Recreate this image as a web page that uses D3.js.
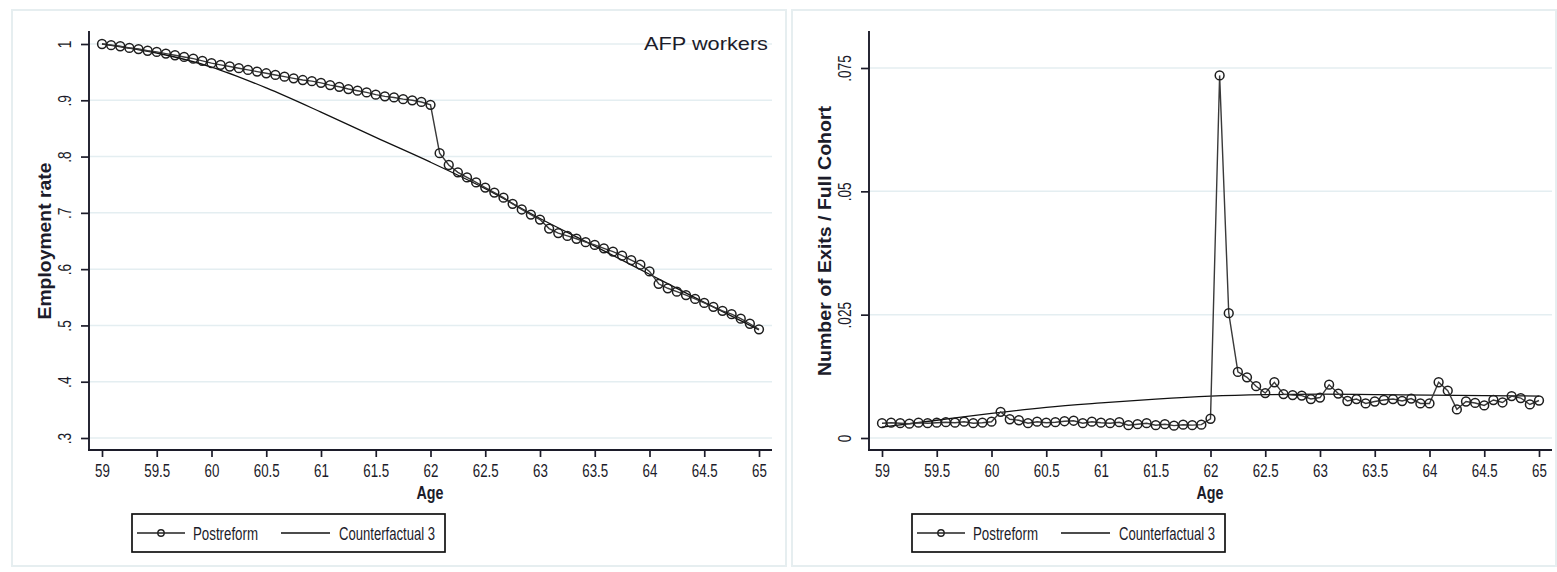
<!DOCTYPE html>
<html>
<head>
<meta charset="utf-8">
<script src="https://cdn.jsdelivr.net/npm/d3@7"></script>
<style>
  html, body { margin: 0; padding: 0; background: #fff; }
  svg { display: block; }
  .tick text { font-family: "Liberation Sans", Arial, sans-serif; fill: #1c1c2a; }
</style>
</head>
<body>
<svg id="chart" width="1557" height="572"></svg>
<script>
// Monthly ages 59.000 ... 65.000 (73 observations)
const ages = d3.range(0, 73).map(i => 59 + i / 12);

// Left panel: employment rate, post-reform cohort (monthly)
const employmentPost = [
  1.000, 0.998, 0.996, 0.993, 0.991, 0.988, 0.986, 0.983, 0.980, 0.977, 0.974, 0.970,
  0.966, 0.963, 0.960, 0.957, 0.954, 0.951, 0.948, 0.945, 0.942, 0.939, 0.936, 0.934,
  0.931, 0.927, 0.924, 0.920, 0.917, 0.914, 0.910, 0.907, 0.905, 0.902, 0.900, 0.897,
  0.892, 0.806, 0.785, 0.772, 0.763, 0.754, 0.745, 0.736, 0.727, 0.716, 0.706, 0.697,
  0.688, 0.672, 0.664, 0.659, 0.654, 0.648, 0.643, 0.637, 0.631, 0.624, 0.616, 0.608,
  0.596, 0.574, 0.566, 0.560, 0.554, 0.547, 0.540, 0.533, 0.526, 0.520, 0.512, 0.503,
  0.493
];

// Left panel: counterfactual 3 employment path (half-year knots)
const cfAgesEmp = [59, 59.5, 60, 60.5, 61, 61.5, 62, 62.5, 63, 63.5, 64, 64.5, 65];
const employmentCf = [1.000, 0.984, 0.959, 0.922, 0.879, 0.834, 0.790, 0.743, 0.690, 0.641, 0.591, 0.541, 0.492];

// Right panel: exits as a share of the full cohort, post-reform (monthly)
const exitsPost = [
  0.0030, 0.0031, 0.0030, 0.0029, 0.0031, 0.0030, 0.0031, 0.0032, 0.0031, 0.0033, 0.0030, 0.0031,
  0.0033, 0.0053, 0.0038, 0.0036, 0.0030, 0.0033, 0.0031, 0.0032, 0.0034, 0.0035, 0.0030, 0.0033,
  0.0031, 0.0030, 0.0032, 0.0026, 0.0028, 0.0030, 0.0026, 0.0028, 0.0025, 0.0027, 0.0026, 0.0027,
  0.0039, 0.0735, 0.0253, 0.0134, 0.0123, 0.0105, 0.0091, 0.0113, 0.0089, 0.0087, 0.0086, 0.0079,
  0.0082, 0.0108, 0.0090, 0.0075, 0.0079, 0.0070, 0.0074, 0.0077, 0.0079, 0.0075, 0.0080, 0.0070,
  0.0070, 0.0113, 0.0096, 0.0058, 0.0074, 0.0071, 0.0066, 0.0077, 0.0072, 0.0085, 0.0081, 0.0068,
  0.0076
];

// Right panel: counterfactual 3 exit path (half-year knots)
const cfAgesExit = [59, 59.5, 60, 60.5, 61, 61.5, 62, 62.5, 63, 63.5, 64, 64.5, 65];
const exitsCf = [0.0022, 0.0036, 0.0050, 0.0062, 0.0071, 0.0079, 0.0085, 0.0088, 0.0089, 0.0088, 0.0087, 0.0086, 0.0085];

// Axis ticks and labels
const xTicks = d3.range(59, 65.01, 0.5);
const empTicks = [0.3, 0.4, 0.5, 0.6, 0.7, 0.8, 0.9, 1];
const empTickLabels = [".3", ".4", ".5", ".6", ".7", ".8", ".9", "1"];
const exitTicks = [0, 0.025, 0.05, 0.075];
const exitTickLabels = ["0", ".025", ".05", ".075"];
const seriesNames = ["Postreform", "Counterfactual 3"];

const svg = d3.select("#chart");
const sans = '"Liberation Sans", Arial, sans-serif';
const ink = "#1c1c2a";
const gridColor = "#e4eef1";

// squeeze text horizontally (condensed look)
function condense(sel, factor) {
  sel.each(function () {
    const w = this.getComputedTextLength();
    d3.select(this).attr("textLength", w * factor).attr("lengthAdjust", "spacingAndGlyphs");
  });
}
function fitTo(sel, len) {
  sel.attr("textLength", len).attr("lengthAdjust", "spacingAndGlyphs");
}

function panel(cfg) {
  const g = svg.append("g").attr("transform", `translate(${cfg.dx},0)`);

  // outer frame
  g.append("rect")
    .attr("x", cfg.frame[0]).attr("y", 10)
    .attr("width", cfg.frame[1] - cfg.frame[0]).attr("height", 556)
    .attr("fill", "none").attr("stroke", "#e6eef0").attr("stroke-width", 2);

  const x = d3.scaleLinear().domain([59, 65]).range([102, 759]);
  const y = d3.scaleLinear().domain(cfg.yDomain).range(cfg.yRange);

  // horizontal grid
  g.append("g").selectAll("line").data(cfg.yTicks).join("line")
    .attr("x1", 89).attr("x2", 772)
    .attr("y1", d => y(d)).attr("y2", d => y(d))
    .attr("stroke", gridColor).attr("stroke-width", 1.5);

  // y axis
  const yAxis = g.append("g").attr("transform", "translate(89,0)")
    .call(d3.axisLeft(y).tickValues(cfg.yTicks)
      .tickFormat((d, i) => cfg.yLabels[i]).tickSize(8).tickPadding(4));
  yAxis.select(".domain").remove();
  yAxis.selectAll(".tick line").attr("stroke", ink).attr("stroke-width", 1.7);
  yAxis.selectAll(".tick text")
    .attr("x", null).attr("dy", null)
    .attr("transform", "translate(-18,0) rotate(-90)")
    .attr("text-anchor", "middle")
    .style("font-size", "18.5px");
  condense(yAxis.selectAll(".tick text"), 0.74);

  // x axis
  const xAxis = g.append("g").attr("transform", "translate(0,450)")
    .call(d3.axisBottom(x).tickValues(xTicks)
      .tickFormat(d3.format("")).tickSize(7).tickPadding(3));
  xAxis.select(".domain").remove();
  xAxis.selectAll(".tick line").attr("stroke", ink).attr("stroke-width", 1.7);
  xAxis.selectAll(".tick text").attr("dy", null).attr("y", 26.5).style("font-size", "18.5px");
  condense(xAxis.selectAll(".tick text"), 0.72);

  // axis lines
  g.append("line").attr("x1", 89).attr("x2", 89).attr("y1", 31).attr("y2", 451)
    .attr("stroke", ink).attr("stroke-width", 1.9);
  g.append("line").attr("x1", 88).attr("x2", 772).attr("y1", 450).attr("y2", 450)
    .attr("stroke", ink).attr("stroke-width", 1.9);

  // axis titles
  g.append("text")
    .attr("transform", `translate(${cfg.yTitleX},${cfg.yTitleY}) rotate(-90)`)
    .attr("text-anchor", "middle")
    .style("font-family", sans).style("font-size", "18px").style("font-weight", "bold")
    .attr("fill", ink).text(cfg.yTitle)
    .call(fitTo, cfg.yTitleLen);
  g.append("text")
    .attr("x", 430).attr("y", 499).attr("text-anchor", "middle")
    .style("font-family", sans).style("font-size", "19px").style("font-weight", "bold")
    .attr("fill", ink).text("Age")
    .call(fitTo, 27);

  // counterfactual curve
  const cfLine = d3.line().x((d, i) => x(cfg.cfAges[i])).y(d => y(d)).curve(d3.curveMonotoneX);
  g.append("path").datum(cfg.cf).attr("d", cfLine)
    .attr("fill", "none").attr("stroke", "#111").attr("stroke-width", 1.3);

  // post-reform series with hollow circle markers
  const postLine = d3.line().x((d, i) => x(ages[i])).y(d => y(d));
  g.append("path").datum(cfg.post).attr("d", postLine)
    .attr("fill", "none").attr("stroke", "#3a3a3a").attr("stroke-width", 1.4);
  g.append("g").selectAll("circle").data(cfg.post).join("circle")
    .attr("cx", (d, i) => x(ages[i])).attr("cy", d => y(d)).attr("r", 4.4)
    .attr("fill", "none").attr("stroke", "#1e1e1e").attr("stroke-width", 1.5);

  // legend
  const lg = g.append("g");
  lg.append("rect").attr("x", 132).attr("y", 514).attr("width", 313).attr("height", 38)
    .attr("fill", "#fff").attr("stroke", "#111").attr("stroke-width", 1.7);
  lg.append("line").attr("x1", 137).attr("x2", 185).attr("y1", 533).attr("y2", 533)
    .attr("stroke", "#222").attr("stroke-width", 1.4);
  lg.append("circle").attr("cx", 161).attr("cy", 533).attr("r", 3.2)
    .attr("fill", "none").attr("stroke", "#222").attr("stroke-width", 1.4);
  lg.append("text").attr("x", 193).attr("y", 540)
    .style("font-family", sans).style("font-size", "17.5px").attr("fill", ink).text(seriesNames[0])
    .call(fitTo, 65);
  lg.append("line").attr("x1", 281).attr("x2", 330).attr("y1", 533).attr("y2", 533)
    .attr("stroke", "#111").attr("stroke-width", 1.4);
  lg.append("text").attr("x", 339).attr("y", 540)
    .style("font-family", sans).style("font-size", "17.5px").attr("fill", ink).text(seriesNames[1])
    .call(fitTo, 96);

  return g;
}

const left = panel({
  dx: 0, frame: [12, 786],
  yDomain: [0.3, 1], yRange: [438, 44],
  yTicks: empTicks, yLabels: empTickLabels,
  yTitle: "Employment rate", yTitleX: 51, yTitleY: 241, yTitleLen: 157,
  post: employmentPost, cf: employmentCf, cfAges: cfAgesEmp
});
left.append("text").attr("x", 768).attr("y", 50).attr("text-anchor", "end")
  .style("font-family", sans).style("font-size", "19px")
  .attr("fill", ink).text("AFP workers")
  .call(fitTo, 124);

panel({
  dx: 780, frame: [12, 776],
  yDomain: [0, 0.075], yRange: [438, 68],
  yTicks: exitTicks, yLabels: exitTickLabels,
  yTitle: "Number of Exits / Full Cohort", yTitleX: 51, yTitleY: 241, yTitleLen: 270,
  post: exitsPost, cf: exitsCf, cfAges: cfAgesExit
});
</script>
</body>
</html>
